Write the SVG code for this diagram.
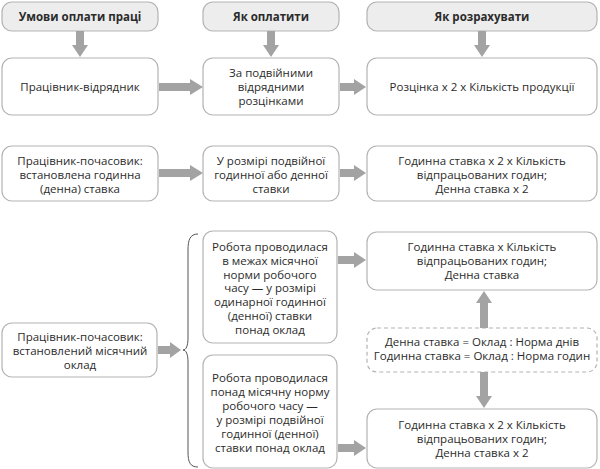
<svg xmlns="http://www.w3.org/2000/svg" width="600" height="469" viewBox="0 0 600 469">
<defs>
<style>
.hdr{fill:#ededed;stroke:#b3b3b3;stroke-width:1.2}
.box{fill:#ffffff;stroke:#b3b3b3;stroke-width:1.2}
.dash{fill:#ffffff;stroke:#b3b3b3;stroke-width:1.2;stroke-dasharray:4 3}
text{font-family:"Open Sans","Noto Sans","DejaVu Sans",sans-serif;font-size:11.5px;fill:#2b2b2b;text-anchor:middle}
.b{font-weight:bold}
.arr{fill:#a3a3a3;stroke:none}
.brace{fill:none;stroke:#555555;stroke-width:1}
</style>
</defs>
<g id="h1"><rect class="hdr" x="2" y="2" width="156" height="29" rx="10"/><text class="b" x="80" y="21">Умови оплати праці</text></g>
<g id="h2"><rect class="hdr" x="203" y="2" width="136" height="29" rx="10"/><text class="b" x="271" y="21">Як оплатити</text></g>
<g id="h3"><rect class="hdr" x="367" y="2" width="230" height="29" rx="10"/><text class="b" x="482" y="21">Як розрахувати</text></g>

<g id="r1a"><rect class="box" x="2" y="58" width="156" height="57" rx="10"/><text x="80" y="91">Працівник-відрядник</text></g>
<g id="r1b"><rect class="box" x="203" y="58" width="136" height="57" rx="10"/><text x="271" y="77">За подвійними</text><text x="271" y="91">відрядними</text><text x="271" y="105">розцінками</text></g>
<g id="r1c"><rect class="box" x="367" y="58" width="230" height="57" rx="10"/><text x="482" y="91">Розцінка х 2 х Кількість продукції</text></g>

<g id="r2a"><rect class="box" x="2" y="146" width="156" height="55" rx="10"/><text x="80" y="165">Працівник-почасовик:</text><text x="80" y="179">встановлена годинна</text><text x="80" y="193">(денна) ставка</text></g>
<g id="r2b"><rect class="box" x="203" y="146" width="136" height="55" rx="10"/><text x="271" y="165">У розмірі подвійної</text><text x="271" y="179">годинної або денної</text><text x="271" y="193">ставки</text></g>
<g id="r2c"><rect class="box" x="367" y="146" width="230" height="55" rx="10"/><text x="482" y="165">Годинна ставка х 2 х Кількість</text><text x="482" y="179">відпрацьованих годин;</text><text x="482" y="193">Денна ставка х 2</text></g>

<g id="r3a"><rect class="box" x="2" y="323" width="155" height="54" rx="10"/><text x="80" y="341">Працівник-почасовик:</text><text x="80" y="355">встановлений місячний</text><text x="80" y="369">оклад</text></g>
<g id="r3b1"><rect class="box" x="203" y="231" width="134" height="112" rx="10"/>
<text x="270" y="251">Робота проводилася</text><text x="270" y="264.8">в межах місячної</text><text x="270" y="278.6">норми робочого</text><text x="270" y="292.4">часу — у розмірі</text><text x="270" y="306.2">одинарної годинної</text><text x="270" y="320">(денної) ставки</text><text x="270" y="333.8">понад оклад</text></g>
<g id="r3b2"><rect class="box" x="203" y="355" width="134" height="113" rx="10"/>
<text x="270" y="382">Робота проводилася</text><text x="270" y="396">понад місячну норму</text><text x="270" y="410">робочого часу —</text><text x="270" y="424">у розмірі подвійної</text><text x="270" y="438">годинної (денної)</text><text x="270" y="452">ставки понад оклад</text></g>
<g id="r3c1"><rect class="box" x="367" y="232" width="230" height="58" rx="10"/><text x="482" y="251">Годинна ставка х Кількість</text><text x="482" y="265">відпрацьованих годин;</text><text x="482" y="279">Денна ставка</text></g>
<g id="r3d"><rect class="dash" x="367" y="328" width="230" height="44" rx="10"/><text x="482" y="346">Денна ставка = Оклад : Норма днів</text><text x="482" y="360">Годинна ставка = Оклад : Норма годин</text></g>
<g id="r3c2"><rect class="box" x="367" y="409" width="230" height="59" rx="10"/><text x="482" y="429">Годинна ставка х 2 х Кількість</text><text x="482" y="443">відпрацьованих годин;</text><text x="482" y="457">Денна ставка х 2</text></g>

<g id="connectors">
<path class="arr" d="M76 31 H84 V45 H88 L80 57 L72 45 H76 Z"/>
<path class="arr" d="M267 31 H275 V45 H279 L271 57 L263 45 H267 Z"/>
<path class="arr" d="M478 31 H486 V45 H490 L482 57 L474 45 H478 Z"/>
<path class="arr" d="M159 83 H190 V79 L203 87 L190 95 V91 H159 Z"/>
<path class="arr" d="M340 83 H354 V79 L366 87 L354 95 V91 H340 Z"/>
<path class="arr" d="M159 169 H190 V165 L203 173 L190 181 V177 H159 Z"/>
<path class="arr" d="M340 169 H354 V165 L366 173 L354 181 V177 H340 Z"/>
<path class="arr" d="M158 346 H170 V342 L181 350 L170 358 V354 H158 Z"/>
<path class="arr" d="M338 256 H354 V252 L366 260 L354 268 V264 H338 Z"/>
<path class="arr" d="M338 444 H354 V440 L366 448 L354 456 V452 H338 Z"/>
<path class="arr" d="M480 328 V303 H476 L484 291 L492 303 H488 V328 Z"/>
<path class="arr" d="M480 372 V396 H476 L484 408 L492 396 H488 V372 Z"/>
<path class="brace" d="M198 234 C190 234 188 240 188 250 V338 C188 346 186 350 183 350 C186 350 188 354 188 362 V452 C188 462 190 467 198 467"/>
</g>
</svg>
